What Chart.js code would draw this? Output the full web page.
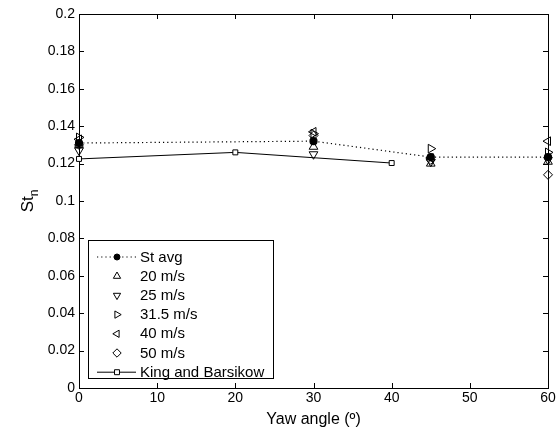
<!DOCTYPE html>
<html><head><meta charset="utf-8">
<script src="https://cdn.jsdelivr.net/npm/chart.js@4"></script>
<style>html,body{margin:0;padding:0;background:#fff}#c{display:block}</style>
</head><body>
<canvas id="c" width="559" height="436"></canvas>
<script>
const yawAngles = [0, 30, 45, 60];
const stAvg   = [0.131, 0.132, 0.1235, 0.1235];
const v20     = [0.130, 0.129, 0.120, 0.121];
const v25     = [0.127, 0.125, 0.121, 0.122];
const v315    = [0.134, 0.136, 0.128, 0.126];
const v40     = [0.133, 0.137, 0.123, 0.132];
const v50     = [0.130, 0.135, 0.122, 0.114];
const kingAngles = [0, 20, 40];
const kingVals   = [0.1225, 0.126, 0.1203];
const xTicks = [0, 10, 20, 30, 40, 50, 60];
const yTicks = [0, 0.02, 0.04, 0.06, 0.08, 0.1, 0.12, 0.14, 0.16, 0.18, 0.2];
const yTickLabels = ['0','0.02','0.04','0.06','0.08','0.1','0.12','0.14','0.16','0.18','0.2'];
const legendLabels = ['St avg','20 m/s','25 m/s','31.5 m/s','40 m/s','50 m/s','King and Barsikow'];

const pts = (xs, ys) => xs.map((x, i) => ({x, y: ys[i]}));
const FONT = "'Liberation Sans', Arial, sans-serif";
const clear = 'rgba(0,0,0,0)';

function markerDs(label, data, style, rot, r) {
  return {label, data: pts(yawAngles, data), showLine: false, pointStyle: style, rotation: rot,
    pointRadius: r, pointBorderColor: '#000', pointBackgroundColor: clear, pointBorderWidth: 1,
    borderColor: '#000', backgroundColor: clear, clip: false};
}

const datasets = [
  {label: legendLabels[0], data: pts(yawAngles, stAvg), borderColor: '#000', borderWidth: 1.2,
   borderDash: [1.2, 3], pointStyle: 'circle', pointRadius: 3.5, pointBackgroundColor: '#000',
   pointBorderColor: '#000', backgroundColor: clear, tension: 0, clip: false},
  markerDs(legendLabels[1], v20, 'triangle', 0, 5),
  markerDs(legendLabels[2], v25, 'triangle', 180, 5),
  markerDs(legendLabels[3], v315, 'triangle', 90, 5),
  markerDs(legendLabels[4], v40, 'triangle', 270, 5),
  markerDs(legendLabels[5], v50, 'rectRot', 0, 4.5),
  {label: legendLabels[6], data: pts(kingAngles, kingVals), borderColor: '#000', borderWidth: 1,
   pointStyle: 'rect', pointRadius: 3.5, pointBackgroundColor: '#fff', pointBorderColor: '#000',
   pointBorderWidth: 1, backgroundColor: clear, tension: 0, clip: false}
];

const framePlugin = {
  id: 'frame',
  beforeDatasetsDraw(chart) {
    const ctx = chart.ctx, a = chart.chartArea;
    const xs = chart.scales.x, ys = chart.scales.y;
    ctx.save();
    ctx.strokeStyle = '#000'; ctx.lineWidth = 1;
    ctx.beginPath();
    for (const t of xTicks) {
      const px = Math.round(xs.getPixelForValue(t)) + 0.5;
      ctx.moveTo(px, a.bottom); ctx.lineTo(px, a.bottom - 5);
      ctx.moveTo(px, a.top); ctx.lineTo(px, a.top + 5);
    }
    for (const t of yTicks) {
      const py = Math.round(ys.getPixelForValue(t)) + 0.5;
      ctx.moveTo(a.left, py); ctx.lineTo(a.left + 5, py);
      ctx.moveTo(a.right, py); ctx.lineTo(a.right - 5, py);
    }
    ctx.stroke();
    ctx.strokeRect(Math.round(a.left) + 0.5, Math.round(a.top) + 0.5,
      Math.round(a.right - a.left), Math.round(a.bottom - a.top));
    ctx.restore();
  },
  afterDatasetsDraw(chart) {
    const ctx = chart.ctx;
    ctx.save();
    ctx.strokeStyle = '#000'; ctx.lineWidth = 1;
    // Legend
    const lx = 88.5, ly = 240.5, lw = 185, lh = 138;
    ctx.fillStyle = '#fff';
    ctx.fillRect(lx, ly, lw, lh);
    ctx.strokeRect(lx, ly, lw, lh);
    ctx.textBaseline = 'middle';
    const rowH = 19.2, y0 = ly + 16.5;
    chart.data.datasets.forEach((ds, i) => {
      const cy = y0 + i * rowH;
      const mx = 117;
      ctx.strokeStyle = '#000';
      if (i === 0 || i === 6) {
        ctx.save();
        ctx.setLineDash(i === 0 ? [1.2, 3] : []);
        ctx.lineWidth = i === 0 ? 1.2 : 1;
        ctx.beginPath(); ctx.moveTo(97, cy); ctx.lineTo(136, cy); ctx.stroke();
        ctx.restore();
      }
      ctx.fillStyle = i === 0 ? '#000' : (i === 6 ? '#fff' : clear);
      Chart.helpers.drawPoint(ctx, {
        pointStyle: ds.pointStyle, rotation: ds.rotation || 0,
        radius: i === 0 ? 3 : (i === 6 ? 3.5 : 4.2), borderWidth: 1
      }, mx, cy);
      ctx.fillStyle = '#000';
      ctx.font = '15px ' + FONT;
      ctx.fillText(ds.label, 140, cy + 0.5);
    });

    // Y-axis title with subscript
    ctx.save();
    ctx.translate(33, 201);
    ctx.rotate(-Math.PI / 2);
    ctx.fillStyle = '#000';
    ctx.textBaseline = 'alphabetic';
    ctx.font = '12px ' + FONT;
    const wn = ctx.measureText('n').width;
    ctx.font = '17px ' + FONT;
    const w = ctx.measureText('St').width;
    const sx = -(w + wn) / 2;
    ctx.fillText('St', sx, 0);
    ctx.font = '12px ' + FONT;
    ctx.fillText('n', sx + w, 5);
    ctx.restore();
    ctx.restore();
  }
};

new Chart(document.getElementById('c'), {
  type: 'line',
  data: {datasets},
  options: {
    responsive: false, animation: false,
    layout: {padding: {top: 14, right: 11, left: 0, bottom: 0}},
    plugins: {legend: {display: false}, tooltip: {enabled: false}},
    scales: {
      x: {type: 'linear', min: 0, max: 60,
        afterBuildTicks: s => { s.ticks = xTicks.map(v => ({value: v})); },
        afterFit: s => { s.height = 48; },
        grid: {display: false, drawTicks: false}, border: {display: false},
        ticks: {color: '#000', font: {family: FONT, size: 14}, padding: 2, maxRotation: 0},
        title: {display: true, text: 'Yaw angle (º)', color: '#000', font: {family: FONT, size: 16}, padding: {top: 0, bottom: 7}}
      },
      y: {type: 'linear', min: 0, max: 0.2,
        afterBuildTicks: s => { s.ticks = yTicks.map(v => ({value: v})); },
        afterFit: s => { s.width = 79; },
        grid: {display: false, drawTicks: false}, border: {display: false},
        ticks: {color: '#000', font: {family: FONT, size: 14}, padding: 4,
          callback: (v) => { const i = yTicks.findIndex(t => Math.abs(t - v) < 1e-9); return i >= 0 ? yTickLabels[i] : ''; }}
      }
    }
  },
  plugins: [framePlugin]
});
</script>
</body></html>
